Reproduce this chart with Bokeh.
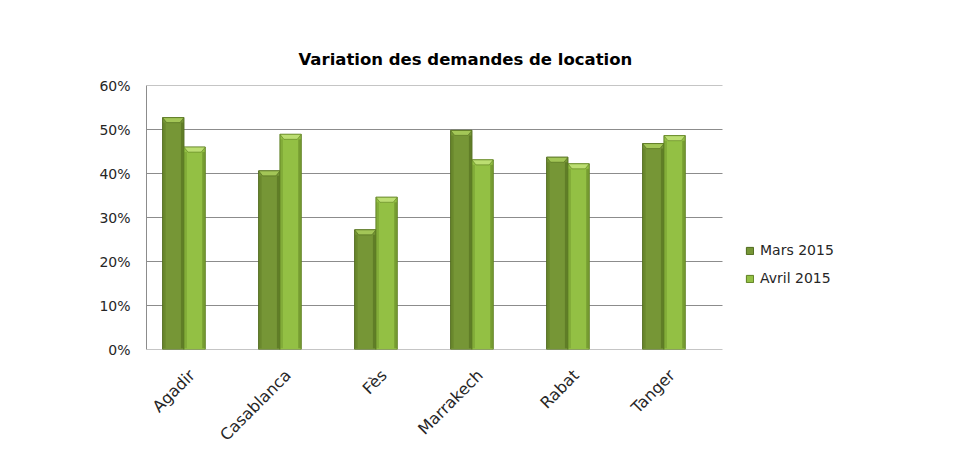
import numpy as np
from bokeh.plotting import figure
from bokeh.models import (ColumnDataSource, FixedTicker, Legend, LegendItem, Title, Range1d)
from bokeh.embed import file_html
from bokeh.resources import INLINE

# ---- data ----
cities = ["Agadir", "Casablanca", "Fès", "Marrakech", "Rabat", "Tanger"]
mars_2015 = [52.7, 40.6, 27.2, 49.8, 43.7, 46.8]
avril_2015 = [46.0, 48.9, 34.6, 43.1, 42.2, 48.6]
y_ticks = [0, 10, 20, 30, 40, 50, 60]
series_names = ["Mars 2015", "Avril 2015"]

FONT = "DejaVu Sans"
W, H = 944, 455
X0, X1 = -0.39, 5.61           # extent of the category axis
PX = 96.0                      # pixels per category
LEFT, TOP, BOTTOM = 146, 85, 106
frame_w = W - LEFT - 10
p = figure(width=W, height=H, output_backend="svg", toolbar_location=None,
           x_range=Range1d(X0, X0 + frame_w / PX), y_range=Range1d(0, 60),
           min_border_left=LEFT, min_border_right=10, min_border_top=TOP,
           min_border_bottom=BOTTOM)
p.outline_line_color = None
p.background_fill_color = "white"
p.border_fill_color = "white"

GRID = "#8c8c8c"
# grid lines and x axis line limited to the category extent
p.segment(x0=[X0] * len(y_ticks), x1=[X1] * len(y_ticks), y0=y_ticks, y1=y_ticks,
          line_color=GRID, line_width=1)

x = np.arange(len(cities), dtype=float)
bw = 0.222
px_per_unit_y = 264 / 60.0
bevel_h = 5 / px_per_unit_y
bevel_d = 4 / PX
edge_w = 3 / PX

def draw(vals, left, body, light, dark):
    vals = np.array(vals, dtype=float)
    lft = left
    rgt = left + bw
    src = ColumnDataSource(dict(left=lft, right=rgt, top=vals, bottom=np.zeros_like(vals)))
    r = p.quad(left="left", right="right", top="top", bottom="bottom", source=src,
               fill_color=body, line_color=dark, line_width=1)
    p.quad(left=lft + 0.004, right=lft + edge_w, top=vals - bevel_h, bottom=np.zeros_like(vals) + 0.3,
           fill_color=dark, fill_alpha=0.3, line_color=None)
    p.quad(left=rgt - edge_w, right=rgt - 0.004, top=vals - bevel_h, bottom=np.zeros_like(vals) + 0.3,
           fill_color=dark, fill_alpha=0.55, line_color=None)
    xs = [[l, r_, r_ - bevel_d, l + bevel_d] for l, r_ in zip(lft, rgt)]
    ys = [[v, v, v - bevel_h, v - bevel_h] for v in vals]
    p.patches(xs=xs, ys=ys, fill_color=light, line_color=dark, line_width=0.6)
    return r

r1 = draw(mars_2015, x - bw, "#769636", "#a3c657", "#4f6a1c")
r2 = draw(avril_2015, x, "#93c044", "#bcde72", "#5e7f22")

# axes
p.yaxis.ticker = FixedTicker(ticks=y_ticks)
p.yaxis.major_label_overrides = {t: f"{t}%" for t in y_ticks}
p.yaxis.major_tick_line_color = None
p.yaxis.minor_tick_line_color = None
p.yaxis.axis_line_color = GRID
p.yaxis.major_label_standoff = 10
p.yaxis.major_label_text_font = FONT
p.yaxis.major_label_text_font_size = "14px"
p.yaxis.major_label_text_color = "#262626"

shift = 0.085
xt = [i + shift for i in range(len(cities))]
p.xaxis.ticker = FixedTicker(ticks=xt)
p.xaxis.major_label_overrides = {t: c for t, c in zip(xt, cities)}
p.xaxis.major_label_orientation = np.pi / 4
p.xaxis.major_tick_line_color = None
p.xaxis.minor_tick_line_color = None
p.xaxis.axis_line_color = None
p.xaxis.major_label_standoff = 17
p.xaxis.major_label_text_font = FONT
p.xaxis.major_label_text_font_size = "16px"
p.xaxis.major_label_text_color = "#262626"

p.xgrid.grid_line_color = None
p.ygrid.grid_line_color = None

legend = Legend(items=[LegendItem(label=series_names[0], renderers=[r1]),
                       LegendItem(label=series_names[1], renderers=[r2])],
                location=(599, 61), orientation="vertical",
                glyph_width=9, glyph_height=9, label_height=20, spacing=8,
                padding=0, margin=0, border_line_color=None,
                background_fill_alpha=0,
                label_text_font=FONT, label_text_font_size="14px",
                label_text_color="#262626", label_standoff=6)
p.add_layout(legend, "center")

t = Title(text="Variation des demandes de location", align="left", offset=152,
          standoff=34, text_font=FONT, text_font_style="bold",
          text_font_size="16.5px", text_color="#000000")
p.add_layout(t, "above")

open("out.html", "w").write(file_html(p, INLINE))
